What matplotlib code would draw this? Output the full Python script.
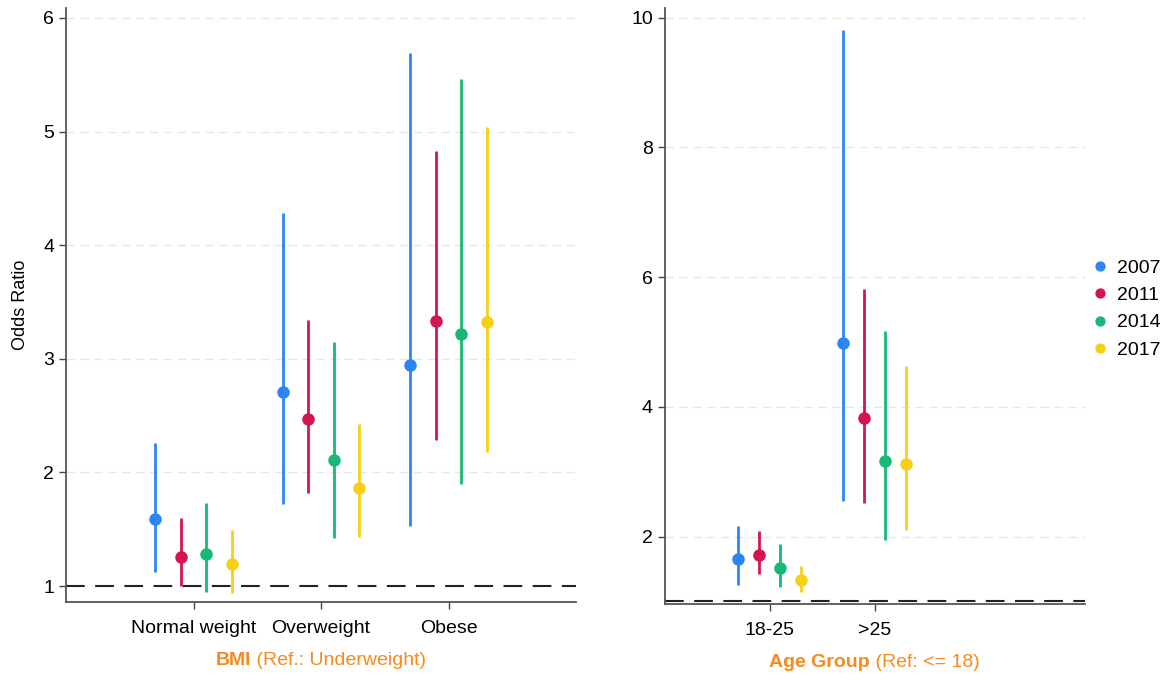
import numpy as np
import matplotlib
matplotlib.use('Agg')
import matplotlib.pyplot as plt
from matplotlib.offsetbox import TextArea, HPacker, AnnotationBbox

plt.rcParams['font.family'] = ['Liberation Sans', 'DejaVu Sans']

years = ['2007', '2011', '2014', '2017']
colors = ['#2b86f3', '#d6144f', '#18b877', '#f8cf17']
offsets = [-0.3, -0.1, 0.1, 0.3]

# BMI panel (ref: underweight)
bmi_cats = ['Normal weight', 'Overweight', 'Obese']
bmi_or = [[1.59, 2.71, 2.95],
          [1.26, 2.47, 3.33],
          [1.28, 2.11, 3.22],
          [1.19, 1.86, 3.32]]
bmi_lo = [[1.12, 1.72, 1.53],
          [1.00, 1.82, 2.29],
          [0.95, 1.42, 1.90],
          [0.94, 1.43, 2.18]]
bmi_hi = [[2.26, 4.28, 5.69],
          [1.60, 3.34, 4.83],
          [1.73, 3.15, 5.46],
          [1.49, 2.43, 5.04]]

# age group panel (ref: <= 18)
age_cats = ['18-25', '>25']
age_or = [[1.65, 4.99],
          [1.72, 3.82],
          [1.51, 3.17],
          [1.33, 3.12]]
age_lo = [[1.25, 2.55],
          [1.42, 2.52],
          [1.22, 1.95],
          [1.14, 2.10]]
age_hi = [[2.17, 9.80],
          [2.09, 5.81],
          [1.88, 5.17],
          [1.55, 4.63]]

orange = '#f78a1d'

fig = plt.figure(figsize=(11.7, 6.76), dpi=100)
ax1 = fig.add_axes([0.0564, 0.1095, 0.436, 0.879])
ax2 = fig.add_axes([0.568, 0.1065, 0.359, 0.882])


def draw(ax, cats, est, lo, hi, ylim, yticks, grid_ticks, title_bold, title_rest):
    xs = np.arange(1, len(cats) + 1)
    for i, yr in enumerate(years):
        x = xs + offsets[i]
        ax.vlines(x, lo[i], hi[i], color=colors[i], lw=2, zorder=3)
        ax.plot(x, est[i], 'o', color=colors[i], ms=8, zorder=4, label=yr)
    ax.axhline(1, color='#222222', lw=1.5, ls=(0, (9, 5)), zorder=2)
    for g in grid_ticks:
        ax.axhline(g, color='#e6e6e6', lw=1, ls=(0, (6, 4)), zorder=1)
    ax.set_xlim(0, 4)
    ax.set_ylim(*ylim)
    ax.set_xticks(xs)
    ax.set_xticklabels(cats)
    ax.set_yticks(yticks)
    ax.tick_params(labelsize=14, length=5, color='#444444', width=1)
    ax.tick_params(axis='x', pad=8)
    for s in ['top', 'right']:
        ax.spines[s].set_visible(False)
    for s in ['left', 'bottom']:
        ax.spines[s].set_color('#555555')
        ax.spines[s].set_linewidth(1.3)
    t1 = TextArea(title_bold, textprops=dict(color=orange, fontsize=14, fontweight='bold'))
    t2 = TextArea(title_rest, textprops=dict(color=orange, fontsize=14))
    box = HPacker(children=[t1, t2], align='baseline', pad=0, sep=0)
    ab = AnnotationBbox(box, (0.5, -0.098), xycoords='axes fraction', frameon=False,
                        box_alignment=(0.5, 0.5), pad=0)
    ax.add_artist(ab)


draw(ax1, bmi_cats, bmi_or, bmi_lo, bmi_hi, (0.86, 6.09), [1, 2, 3, 4, 5, 6],
     [2, 3, 4, 5, 6], 'BMI', ' (Ref.: Underweight)')
draw(ax2, age_cats, age_or, age_lo, age_hi, (0.96, 10.15), [2, 4, 6, 8, 10],
     [2, 4, 6, 8, 10], 'Age Group', ' (Ref: <= 18)')

ax1.set_ylabel('Odds Ratio', fontsize=13, labelpad=10)

ax2.legend(loc='center left', bbox_to_anchor=(0.985, 0.495), frameon=False, fontsize=14,
           handletextpad=0.4, labelspacing=0.5, markerscale=0.8, handlelength=1.0,
           borderaxespad=0.2)

fig.savefig('out.png', dpi=100, facecolor='white')
